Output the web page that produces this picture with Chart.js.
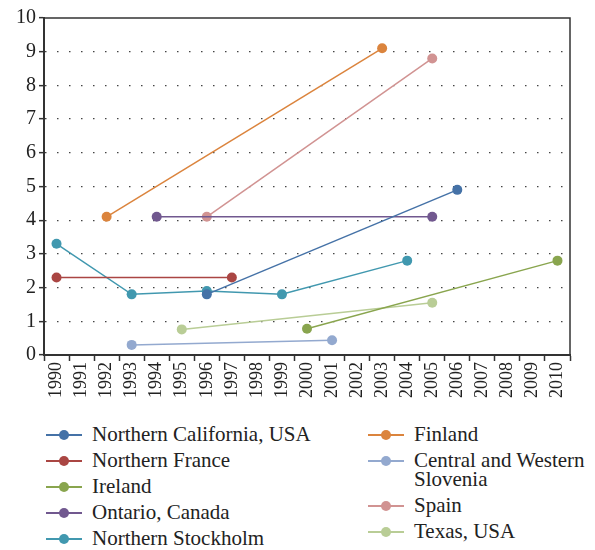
<!DOCTYPE html>
<html>
<head>
<meta charset="utf-8">
<script src="https://cdn.jsdelivr.net/npm/chart.js@4"></script>
<style>
  body { margin: 0; background: #fff; }
  #wrap { position: relative; width: 595px; height: 550px; }
  #legend { position: absolute; top: 425px; left: 0; width: 595px; font-family: "Liberation Serif", serif; font-size: 21px; color: #222; }
  .col { position: absolute; top: 0; }
  .item { display: flex; align-items: flex-start; line-height: 19px; margin-bottom: 7px; }
  .mark { position: relative; flex: none; width: 36px; height: 19px; margin-right: 10px; }
  .mark .ln { position: absolute; left: 0; top: 9px; width: 36px; height: 2px; }
  .mark .dot { position: absolute; left: 13px; top: 5px; width: 10px; height: 10px; border-radius: 50%; }
</style>
</head>
<body>
<div id="wrap">
  <canvas id="chart" width="595" height="420"></canvas>
  <div id="legend"></div>
</div>
<script>
const years = ['1990', '1991', '1992', '1993', '1994', '1995', '1996', '1997', '1998', '1999', '2000',
    '2001', '2002', '2003', '2004', '2005', '2006', '2007', '2008', '2009', '2010'];
const yTicks = [0, 1, 2, 3, 4, 5, 6, 7, 8, 9, 10];

const californiaYears = ['1996', '2006'];
const californiaValues = [1.8, 4.9];
const franceYears = ['1990', '1997'];
const franceValues = [2.3, 2.3];
const irelandYears = ['2000', '2010'];
const irelandValues = [0.78, 2.8];
const ontarioYears = ['1994', '2005'];
const ontarioValues = [4.1, 4.1];
const stockholmYears = ['1990', '1993', '1996', '1999', '2004'];
const stockholmValues = [3.3, 1.8, 1.9, 1.8, 2.8];
const finlandYears = ['1992', '2003'];
const finlandValues = [4.1, 9.1];
const sloveniaYears = ['1993', '2001'];
const sloveniaValues = [0.3, 0.44];
const spainYears = ['1996', '2005'];
const spainValues = [4.1, 8.8];
const texasYears = ['1995', '2005'];
const texasValues = [0.76, 1.55];

const seriesNames = ['Northern California, USA', 'Northern France', 'Ireland', 'Ontario, Canada',
    'Northern Stockholm', 'Finland', 'Central and Western Slovenia', 'Spain', 'Texas, USA'];
const seriesColors = ['#4572A7', '#AA4643', '#89A54E', '#71588F', '#4198AF', '#DB843D', '#93A9CF', '#D19392', '#B9CD96'];

const fontFamily = '"Liberation Serif", serif';

function points(yrs, vals) {
    return yrs.map((yr, i) => ({ x: yr, y: vals[i] }));
}

const seriesData = [
    points(californiaYears, californiaValues),
    points(franceYears, franceValues),
    points(irelandYears, irelandValues),
    points(ontarioYears, ontarioValues),
    points(stockholmYears, stockholmValues),
    points(finlandYears, finlandValues),
    points(sloveniaYears, sloveniaValues),
    points(spainYears, spainValues),
    points(texasYears, texasValues)
];

const datasets = seriesNames.map((name, i) => ({
    label: name,
    data: seriesData[i],
    borderColor: seriesColors[i],
    backgroundColor: seriesColors[i],
    pointBackgroundColor: seriesColors[i],
    pointBorderWidth: 0,
    pointRadius: 5,
    borderWidth: 1.5,
    spanGaps: true
}));

// box round the plot (top and right edges)
const frame = {
    id: 'frame',
    afterDraw(chart) {
        const a = chart.chartArea;
        const ctx = chart.ctx;
        ctx.save();
        ctx.strokeStyle = '#333';
        ctx.lineWidth = 1.5;
        ctx.strokeRect(a.left, a.top, a.right - a.left, a.bottom - a.top);
        ctx.restore();
    }
};

const ctx = document.getElementById('chart').getContext('2d');
new Chart(ctx, {
    type: 'line',
    data: { labels: years, datasets: datasets },
    options: {
        responsive: false,
        animation: false,
        layout: { padding: { top: 18, right: 25, left: 0, bottom: 0 } },
        plugins: { legend: { display: false }, tooltip: { enabled: false } },
        scales: {
            x: {
                type: 'category',
                offset: true,
                grid: { offset: true, drawOnChartArea: false, tickLength: 6, tickColor: '#333', tickWidth: 1.5 },
                border: { color: '#333', width: 2 },
                ticks: {
                    color: '#222', padding: 1, maxRotation: 90, minRotation: 90, autoSkip: false,
                    font: { family: fontFamily, size: 18 }
                },
                afterFit(scale) { scale.height = 65; }
            },
            y: {
                min: 0,
                max: 10,
                afterBuildTicks(scale) { scale.ticks = yTicks.map(v => ({ value: v })); },
                grid: {
                    color: c => (c.tick && (c.tick.value === 0 || c.tick.value === 10)) ? 'rgba(0,0,0,0)' : '#444',
                    lineWidth: 1.3,
                    tickLength: 5,
                    tickColor: '#333',
                    tickWidth: 1.5,
                    tickBorderDash: []
                },
                border: { color: '#333', width: 2, dash: [1.5, 10.5] },
                ticks: { color: '#222', padding: 3, font: { family: fontFamily, size: 20 } },
                afterFit(scale) { scale.width = 44; }
            }
        }
    },
    plugins: [frame]
});

// two-column legend under the chart
const legend = document.getElementById('legend');
const columns = [{ left: 46, from: 0, to: 5 }, { left: 368, from: 5, to: 9 }];
columns.forEach(col => {
    const div = document.createElement('div');
    div.className = 'col';
    div.style.left = col.left + 'px';
    div.style.width = (595 - col.left - 4) + 'px';
    for (let i = col.from; i < col.to; i++) {
        const item = document.createElement('div');
        item.className = 'item';
        item.innerHTML = '<span class="mark"><span class="ln" style="background:' + seriesColors[i] +
            '"></span><span class="dot" style="background:' + seriesColors[i] + '"></span></span>';
        const txt = document.createElement('span');
        txt.textContent = seriesNames[i];
        if (col.left > 100) txt.style.maxWidth = '182px';
        item.appendChild(txt);
        div.appendChild(item);
    }
    legend.appendChild(div);
});
</script>
</body>
</html>
